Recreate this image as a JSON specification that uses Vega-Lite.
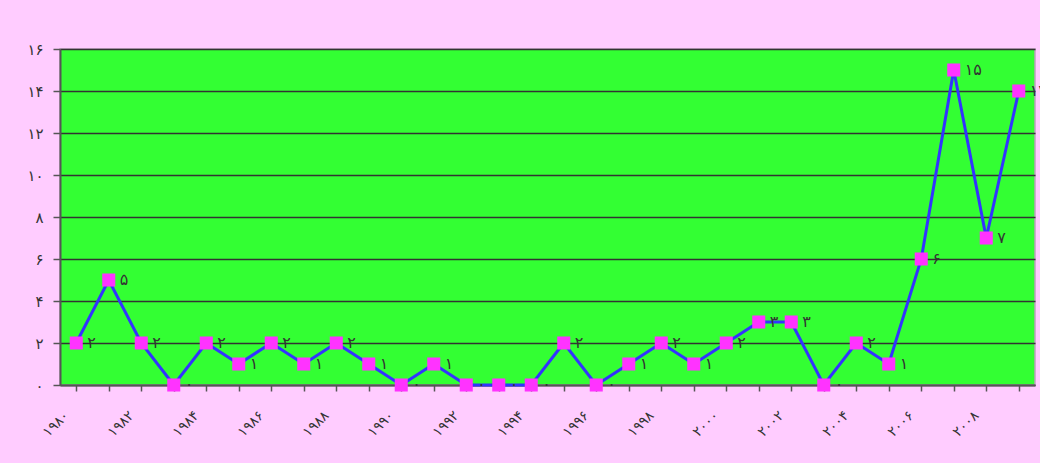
{
  "$schema": "https://vega.github.io/schema/vega-lite/v6.json",
  "width": 975,
  "height": 336,
  "autosize": {"type": "none"},
  "padding": {"left": 60, "top": 49, "right": 5, "bottom": 78},
  "background": "#ffccff",
  "config": {
    "view": {"fill": "#33ff33", "stroke": "#c0a0c0", "strokeWidth": 1.5},
    "font": "DejaVu Sans"
  },
  "data": {
    "values": [
      {"year": "۱۹۸۰", "value": 2, "label": "۲"},
      {"year": "۱۹۸۱", "value": 5, "label": "۵"},
      {"year": "۱۹۸۲", "value": 2, "label": "۲"},
      {"year": "۱۹۸۳", "value": 0, "label": "۰"},
      {"year": "۱۹۸۴", "value": 2, "label": "۲"},
      {"year": "۱۹۸۵", "value": 1, "label": "۱"},
      {"year": "۱۹۸۶", "value": 2, "label": "۲"},
      {"year": "۱۹۸۷", "value": 1, "label": "۱"},
      {"year": "۱۹۸۸", "value": 2, "label": "۲"},
      {"year": "۱۹۸۹", "value": 1, "label": "۱"},
      {"year": "۱۹۹۰", "value": 0, "label": "۰"},
      {"year": "۱۹۹۱", "value": 1, "label": "۱"},
      {"year": "۱۹۹۲", "value": 0, "label": "۰"},
      {"year": "۱۹۹۳", "value": 0, "label": "۰"},
      {"year": "۱۹۹۴", "value": 0, "label": "۰"},
      {"year": "۱۹۹۵", "value": 2, "label": "۲"},
      {"year": "۱۹۹۶", "value": 0, "label": "۰"},
      {"year": "۱۹۹۷", "value": 1, "label": "۱"},
      {"year": "۱۹۹۸", "value": 2, "label": "۲"},
      {"year": "۱۹۹۹", "value": 1, "label": "۱"},
      {"year": "۲۰۰۰", "value": 2, "label": "۲"},
      {"year": "۲۰۰۱", "value": 3, "label": "۳"},
      {"year": "۲۰۰۲", "value": 3, "label": "۳"},
      {"year": "۲۰۰۳", "value": 0, "label": "۰"},
      {"year": "۲۰۰۴", "value": 2, "label": "۲"},
      {"year": "۲۰۰۵", "value": 1, "label": "۱"},
      {"year": "۲۰۰۶", "value": 6, "label": "۶"},
      {"year": "۲۰۰۷", "value": 15, "label": "۱۵"},
      {"year": "۲۰۰۸", "value": 7, "label": "۷"},
      {"year": "۲۰۰۹", "value": 14, "label": "۱۴"}
    ]
  },
  "encoding": {
    "x": {
      "field": "year",
      "type": "ordinal",
      "sort": null,
      "scale": {"paddingInner": 0, "paddingOuter": 0},
      "axis": {
        "title": null,
        "bandPosition": 0,
        "labelAngle": -45,
        "labelAlign": "right",
        "labelBaseline": "middle",
        "labelOffset": -10,
        "labelPadding": 22,
        "labelFontSize": 14,
        "labelColor": "#333333",
        "labelExpr": "indexof('۰۲۴۶۸', slice(datum.label, -1)) >= 0 ? datum.label : ''",
        "tickSize": 6,
        "tickColor": "#555555",
        "tickWidth": 1.5,
        "domainColor": "#555555",
        "domainWidth": 2,
        "grid": false
      }
    },
    "y": {
      "field": "value",
      "type": "quantitative",
      "scale": {"domain": [0, 16], "nice": false},
      "axis": {
        "title": null,
        "values": [0, 2, 4, 6, 8, 10, 12, 14, 16],
        "labelExpr": "['۰','۱','۲','۳','۴','۵','۶','۷','۸','۹','۱۰','۱۱','۱۲','۱۳','۱۴','۱۵','۱۶'][datum.value]",
        "labelFontSize": 15,
        "labelColor": "#333333",
        "labelPadding": 10,
        "tickSize": 7,
        "tickColor": "#555555",
        "tickWidth": 1.5,
        "domainColor": "#555555",
        "domainWidth": 2,
        "grid": true,
        "gridColor": "#333333",
        "gridWidth": 1.5,
        "gridOpacity": 1
      }
    }
  },
  "layer": [
    {"mark": {"type": "line", "color": "#3333ff", "strokeWidth": 3}},
    {"mark": {"type": "point", "shape": "square", "filled": true, "color": "#ff33ff", "size": 170, "opacity": 1}},
    {
      "mark": {"type": "text", "align": "left", "baseline": "middle", "dx": 11, "fontSize": 16, "color": "#333333", "clip": false},
      "encoding": {"text": {"field": "label"}}
    }
  ]
}
